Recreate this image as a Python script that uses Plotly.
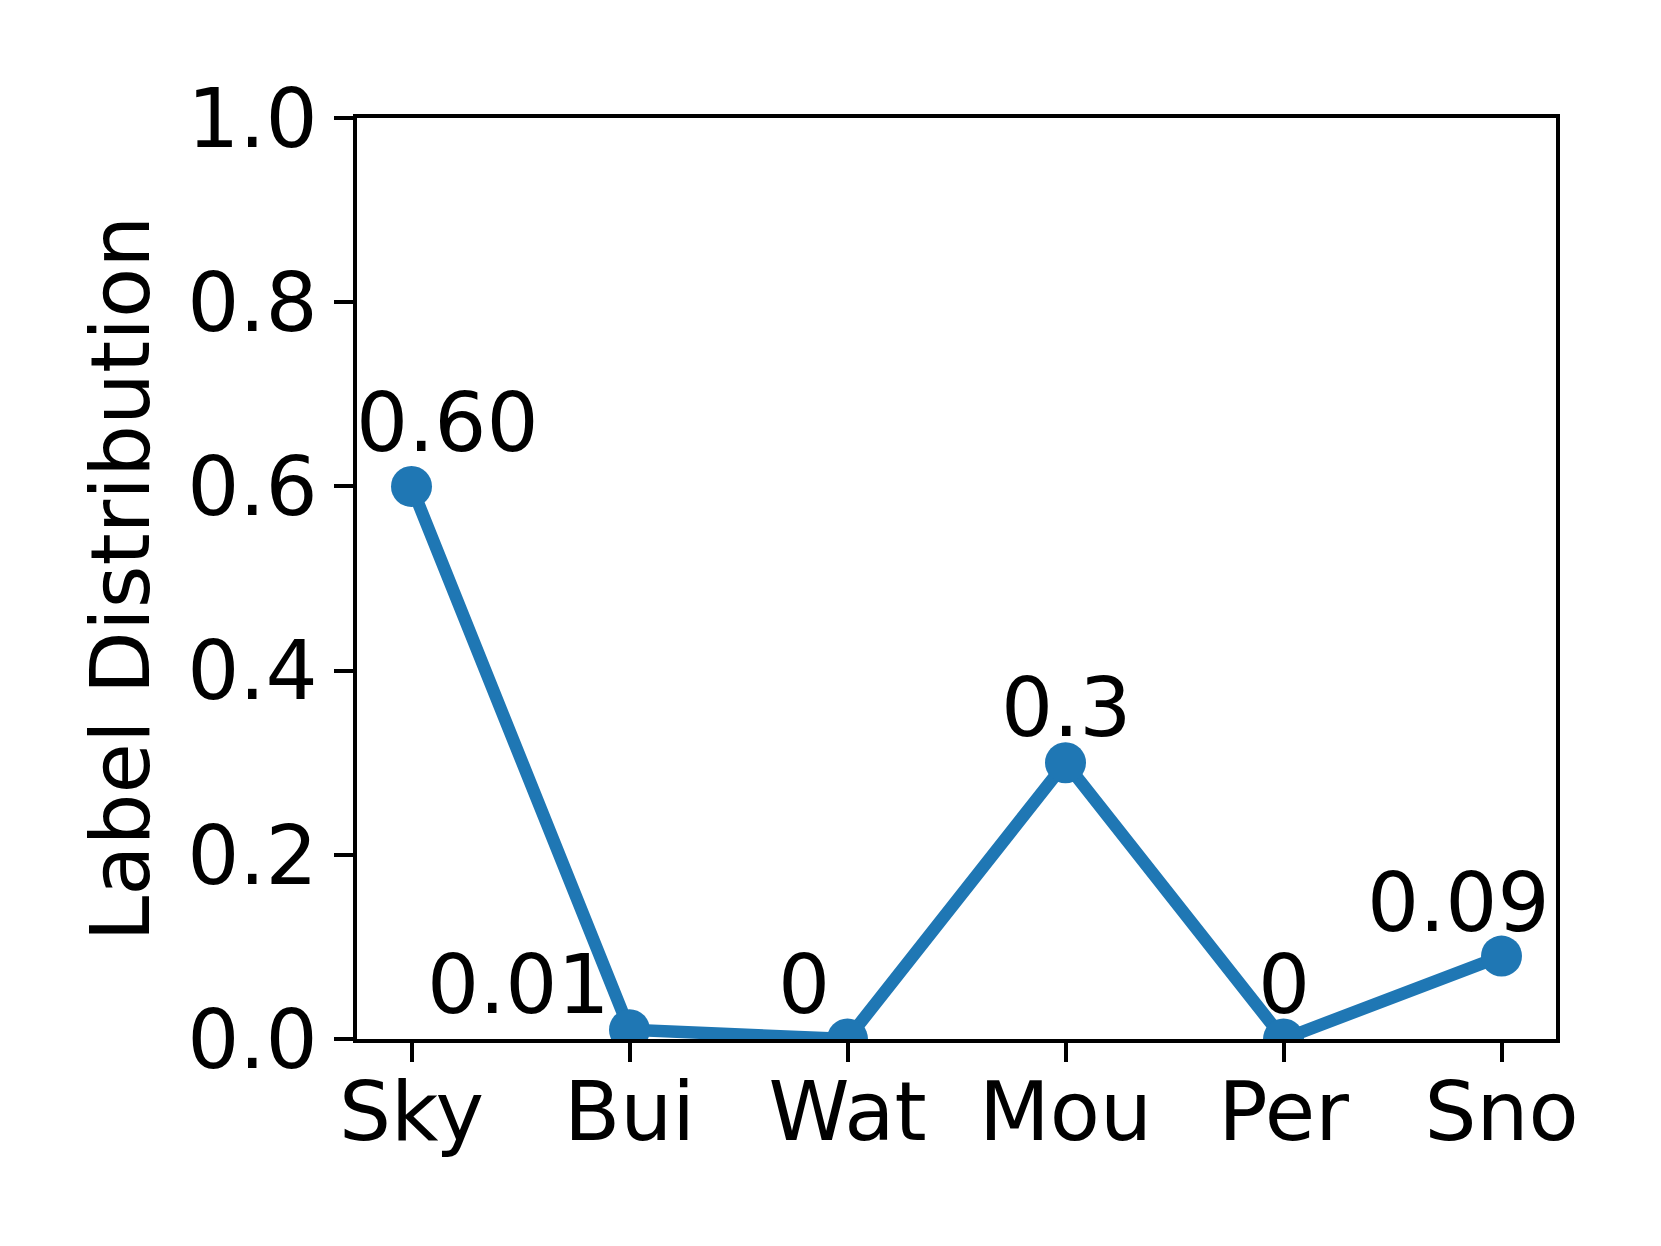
import plotly.graph_objects as go

# data
categories = ['Sky', 'Bui', 'Wat', 'Mou', 'Per', 'Sno']
values = [0.60, 0.01, 0.0, 0.3, 0.0, 0.09]
value_labels = ['0.60', '0.01', '0', '0.3', '0', '0.09']
y_ticks = [0.0, 0.2, 0.4, 0.6, 0.8, 1.0]

# label offsets in px (style only)
label_dx = [36, -111, -44, 0, 0, -43]
label_dy = [64, 45, 55, 55, 55, 54]

blue = '#1f77b4'
font = 'DejaVu Sans'
fsize = 82

x_idx = list(range(len(categories)))

fig = go.Figure()
fig.add_trace(go.Scatter(
    x=x_idx, y=values, mode='lines+markers',
    line=dict(color=blue, width=12.5),
    marker=dict(color=blue, size=41),
    cliponaxis=True, showlegend=False,
))

for i, (v, t) in enumerate(zip(values, value_labels)):
    fig.add_annotation(
        x=x_idx[i], y=v, text=t, showarrow=False,
        xshift=label_dx[i], yshift=label_dy[i],
        xanchor='center', yanchor='middle',
        font=dict(family=font, size=fsize, color='black'),
    )

# y axis title as rotated text
fig.add_annotation(
    xref='paper', yref='paper', x=(120 - 357) / 1199, y=0.5,
    text='Label Distribution', textangle=-90, showarrow=False,
    xanchor='center', yanchor='middle',
    font=dict(family=font, size=fsize, color='black'),
)

fig.update_xaxes(
    range=[-0.25, 5.25], tickmode='array', tickvals=x_idx, ticktext=categories,
    showgrid=False, zeroline=False, showline=True, linecolor='black', linewidth=4,
    mirror=True, ticks='outside', ticklen=19, tickwidth=4, tickcolor='black',
    ticklabelstandoff=-20,
    tickfont=dict(family=font, size=fsize, color='black'),
)
fig.update_yaxes(
    range=[0, 1], tickmode='array', tickvals=y_ticks,
    ticktext=['%.1f' % t for t in y_ticks],
    showgrid=False, zeroline=False, showline=True, linecolor='black', linewidth=4,
    mirror=True, ticks='outside', ticklen=19, tickwidth=4, tickcolor='black',
    tickfont=dict(family=font, size=fsize, color='black'),
)

# page body has an 8px margin, so the figure is shrunk and shifted to fit
fig.update_layout(
    width=1645, height=1230,
    margin=dict(l=349, r=97, t=110, b=199, autoexpand=False),
    plot_bgcolor='white', paper_bgcolor='white',
)

fig.write_html("out.html")
